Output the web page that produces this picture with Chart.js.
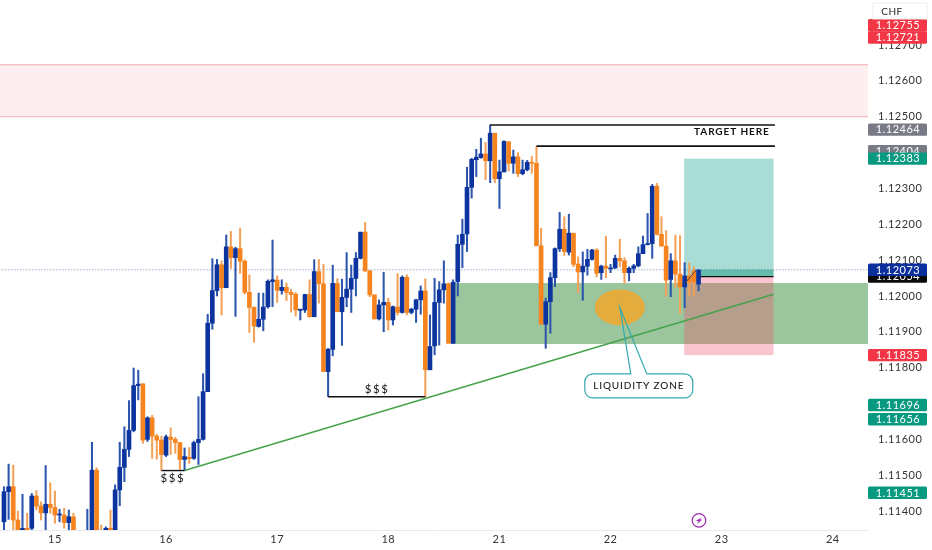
<!DOCTYPE html>
<html>
<head>
<meta charset="utf-8">
<title>CHF</title>
<script src="https://cdn.jsdelivr.net/npm/chart.js@4"></script>
<style>
  html, body { margin: 0; padding: 0; background: #fff; }
  canvas { display: block; }
</style>
</head>
<body>
<canvas id="chart" width="932" height="550"></canvas>
<script>
// hourly candles, x is the bar number
const opens = [
  1.11370,1.11454,1.11468,1.11375,1.11340,1.11352,1.11352,1.11442,1.11414,1.11395,
  1.11419,1.11410,1.11389,1.11389,1.11368,1.11384,1.11330,1.11300,1.11320,1.11335,
  1.11514,1.11335,1.11335,1.11352,1.11335,1.11459,1.11522,1.11572,1.11625,1.11750,
  1.11755,1.11600,1.11660,1.11609,1.11598,1.11556,1.11606,1.11600,1.11591,1.11544,
  1.11550,1.11547,1.11591,1.11600,1.11733,1.11924,1.12015,1.12087,1.12023,1.12137,
  1.12107,1.12132,1.12097,1.12010,1.11968,1.11915,1.11935,1.11970,1.12040,1.12044,
  1.12015,1.12024,1.12010,1.12005,1.11960,1.11961,1.12004,1.11942,1.12068,1.12034,
  1.11789,1.11851,1.12035,1.11956,1.11996,1.12019,1.12049,1.12105,1.12178,1.12070,
  1.12003,1.11936,1.11975,1.11982,1.11933,1.11969,1.11954,1.12052,1.11954,1.11963,
  1.11989,1.12014,1.11794,1.11861,1.11982,1.12017,1.12034,1.11868,1.12040,1.12144,
  1.12173,1.12303,1.12380,1.12386,1.12396,1.12377,1.12454,1.12327,1.12346,1.12430,
  1.12370,1.12388,1.12341,1.12352,1.12373,1.12370,1.12140,1.11921,1.11984,1.12051,
  1.12132,1.12186,1.12122,1.12175,1.12089,1.12067,1.12083,1.12102,1.12128,1.12065,
  1.12083,1.12076,1.12078,1.12105,1.12098,1.12065,1.12077,1.12084,1.12118,1.12143,
  1.12146,1.12306,1.12172,1.12139,1.12046,1.12098,1.12061,1.12025,1.12056,1.12069,1.12033
];
const highs = [
  1.11468,1.11531,1.11528,1.11400,1.11447,1.11394,1.11449,1.11457,1.11426,1.11527,
  1.11479,1.11456,1.11405,1.11408,1.11403,1.11394,1.11340,1.11335,1.11405,1.11592,
  1.11521,1.11361,1.11356,1.11403,1.11473,1.11592,1.11635,1.11708,1.11799,1.11793,
  1.11755,1.11663,1.11667,1.11614,1.11609,1.11612,1.11632,1.11606,1.11591,1.11576,
  1.11577,1.11595,1.11719,1.11783,1.11949,1.12104,1.12102,1.12098,1.12170,1.12180,
  1.12136,1.12189,1.12101,1.12059,1.11970,1.12008,1.12008,1.12045,1.12156,1.12056,
  1.12045,1.12036,1.12019,1.12009,1.11963,1.12005,1.12045,1.12101,1.12102,1.12088,
  1.11854,1.12086,1.12048,1.12047,1.12121,1.12086,1.12121,1.12178,1.12205,1.12071,
  1.12003,1.11989,1.12066,1.11994,1.11972,1.12062,1.12056,1.12059,1.11966,1.11991,
  1.12028,1.12048,1.11947,1.12049,1.12040,1.12098,1.12036,1.12045,1.12170,1.12214,
  1.12359,1.12384,1.12409,1.12440,1.12428,1.12477,1.12454,1.12379,1.12433,1.12431,
  1.12407,1.12400,1.12379,1.12378,1.12389,1.12417,1.12189,1.11994,1.12065,1.12134,
  1.12233,1.12221,1.12228,1.12175,1.12109,1.12123,1.12130,1.12130,1.12132,1.12086,
  1.12167,1.12088,1.12114,1.12158,1.12107,1.12081,1.12088,1.12137,1.12167,1.12230,
  1.12311,1.12314,1.12221,1.12182,1.12118,1.12170,1.12168,1.12093,1.12092,1.12081,1.12074
];
const lows = [
  1.11340,1.11377,1.11345,1.11330,1.11330,1.11335,1.11345,1.11403,1.11375,1.11345,
  1.11394,1.11366,1.11370,1.11352,1.11340,1.11330,1.11300,1.11290,1.11310,1.11320,
  1.11310,1.11310,1.11330,1.11330,1.11330,1.11415,1.11482,1.11552,1.11621,1.11710,
  1.11589,1.11594,1.11547,1.11545,1.11513,1.11552,1.11558,1.11561,1.11513,1.11513,
  1.11533,1.11544,1.11530,1.11598,1.11733,1.11907,1.12000,1.11947,1.12023,1.12077,
  1.11943,1.12063,1.12005,1.11898,1.11871,1.11913,1.11903,1.11966,1.11970,1.11982,
  1.12005,1.11987,1.11955,1.11944,1.11933,1.11954,1.11941,1.11942,1.11980,1.11789,
  1.11719,1.11833,1.11956,1.11862,1.11970,1.11954,1.12000,1.12103,1.12068,1.11998,
  1.11935,1.11933,1.11900,1.11905,1.11919,1.11947,1.11952,1.11947,1.11950,1.11926,
  1.11949,1.11719,1.11794,1.11836,1.11863,1.11980,1.11868,1.11868,1.12000,1.12079,
  1.12124,1.12273,1.12333,1.12384,1.12324,1.12316,1.12316,1.12244,1.12346,1.12349,
  1.12342,1.12333,1.12338,1.12349,1.12342,1.12140,1.11921,1.11854,1.11896,1.12026,
  1.12124,1.12113,1.12114,1.12082,1.12010,1.11988,1.12058,1.12100,1.12053,1.12046,
  1.12051,1.12065,1.12077,1.12081,1.12035,1.12042,1.12065,1.12081,1.12118,1.12142,
  1.12105,1.12170,1.12139,1.11999,1.11998,1.12025,1.11951,1.11967,1.11999,1.12002,1.12014
];
const closes = [
  1.11454,1.11468,1.11375,1.11340,1.11352,1.11342,1.11442,1.11414,1.11395,1.11419,
  1.11410,1.11389,1.11392,1.11368,1.11384,1.11340,1.11310,1.11320,1.11335,1.11514,
  1.11320,1.11320,1.11352,1.11335,1.11459,1.11522,1.11572,1.11625,1.11750,1.11754,
  1.11598,1.11660,1.11609,1.11598,1.11558,1.11607,1.11600,1.11591,1.11544,1.11552,
  1.11546,1.11591,1.11600,1.11733,1.11924,1.12015,1.12087,1.12023,1.12137,1.12107,
  1.12132,1.12097,1.12010,1.11968,1.11916,1.11935,1.11969,1.12041,1.12045,1.12016,
  1.12024,1.12010,1.12004,1.11961,1.11963,1.12004,1.11942,1.12068,1.12034,1.11789,
  1.11851,1.12035,1.11956,1.11996,1.12019,1.12049,1.12105,1.12178,1.12070,1.12003,
  1.11936,1.11975,1.11982,1.11933,1.11970,1.11954,1.12052,1.11954,1.11963,1.11989,
  1.12014,1.11794,1.11859,1.11982,1.12017,1.12034,1.11868,1.12038,1.12144,1.12172,
  1.12303,1.12381,1.12387,1.12396,1.12377,1.12454,1.12327,1.12346,1.12431,1.12370,
  1.12388,1.12341,1.12352,1.12373,1.12370,1.12140,1.11921,1.11984,1.12051,1.12132,
  1.12186,1.12124,1.12175,1.12088,1.12067,1.12083,1.12102,1.12128,1.12063,1.12083,
  1.12077,1.12078,1.12105,1.12098,1.12065,1.12077,1.12084,1.12118,1.12143,1.12146,
  1.12306,1.12172,1.12139,1.12044,1.12098,1.12061,1.12025,1.12056,1.12038,1.12038,1.12072
];

const dayTicks = [11, 35, 59, 83, 107, 131, 155, 179];
const dayLabels = ['15', '16', '17', '18', '21', '22', '23', '24'];
const priceTicks = [1.114, 1.115, 1.116, 1.117, 1.118, 1.119, 1.12, 1.121, 1.122, 1.123, 1.124, 1.125, 1.126, 1.127];

// tags on the price scale, later ones sit on top
const tagPrices = [1.12755, 1.12721, 1.12464, 1.12404, 1.12383, 1.12054, 1.12073, 1.11835, 1.11696, 1.11656, 1.11451];
const tagColors = ['#f23645', '#f23645', '#787b86', '#787b86', '#089981', '#0a0a0a', '#0c2f9e', '#f23645', '#089981', '#089981', '#089981'];

// drawings
const resistanceZone = [1.12500, 1.12645];
const demandZone = [1.11866, 1.12036];
const demandZoneStart = 96.5;
const longStartEnd = [146.9, 166.2];
const longPrices = [1.12383, 1.12054, 1.11835]; // target, entry, stop
const lastPrice = 1.12073;

const targetLineX = [105, 166.5];
const targetLineY = [1.12477, 1.12477];
const target2LineX = [115, 166.5];
const target2LineY = [1.12418, 1.12418];
const sss1LineX = [34, 39];
const sss1LineY = [1.11513, 1.11513];
const sss2LineX = [70, 91];
const sss2LineY = [1.11719, 1.11719];
const entryLineX = [150.4, 166.2];
const entryLineY = [1.12054, 1.12054];
const trendLineX = [39, 166.2];
const trendLineY = [1.11513, 1.12005];
const arrowLineX = [147, 149.5];
const arrowLineY = [1.12034, 1.12073];

const labelTexts = ['TARGET HERE', '$$$', '$$$'];
const labelX = [157.2, 36.5, 80.6];
const labelY = [1.12457, 1.11492, 1.11740];

const spotX = 133, spotY = 1.11968, spotRadX = 5.4, spotRadY = 0.0005;
const calloutX = 137.1, calloutY = 1.11749;
const boltX = 150.1, boltY = 1.11374;

const BLUE = '#0c349f', ORANGE = '#f5841f';
const barNums = opens.map((_, i) => i);

function segment(xs, ys, color, width, order, dash) {
  return {
    type: 'line',
    data: xs.map((x, i) => ({ x: x, y: ys[i] })),
    borderColor: color,
    borderWidth: width,
    borderDash: dash || [],
    pointRadius: 0,
    order: order
  };
}

const zonesPlugin = {
  id: 'zones',
  beforeDatasetsDraw(chart) {
    const { ctx, chartArea: a, scales: { x, y } } = chart;
    const yp = v => y.getPixelForValue(v);
    const xp = v => x.getPixelForValue(v);
    ctx.save();
    // pink band at the top
    ctx.fillStyle = '#fdeff0';
    ctx.fillRect(a.left, yp(resistanceZone[1]), a.width, yp(resistanceZone[0]) - yp(resistanceZone[1]));
    ctx.fillStyle = '#f6b9bd';
    ctx.fillRect(a.left, yp(resistanceZone[1]) - 0.6, a.width, 1.2);
    ctx.fillRect(a.left, yp(resistanceZone[0]) - 0.6, a.width, 1.2);
    // green zone
    ctx.fillStyle = 'rgba(56,142,60,.5)';
    ctx.fillRect(xp(demandZoneStart), yp(demandZone[1]), a.right - xp(demandZoneStart), yp(demandZone[0]) - yp(demandZone[1]));
    // long position box
    const l = xp(longStartEnd[0]), w = xp(longStartEnd[1]) - l;
    ctx.fillStyle = '#a8dcd4';
    ctx.fillRect(l, yp(longPrices[0]), w, yp(longPrices[1]) - yp(longPrices[0]));
    ctx.fillStyle = 'rgba(237,79,106,.33)';
    ctx.fillRect(l, yp(longPrices[1]), w, yp(longPrices[2]) - yp(longPrices[1]));
    ctx.fillStyle = 'rgba(0,140,110,.4)';
    ctx.fillRect(xp(entryLineX[0]), yp(lastPrice), xp(longStartEnd[1]) - xp(entryLineX[0]), yp(longPrices[1]) - yp(lastPrice));
    ctx.restore();
  }
};

const drawingsPlugin = {
  id: 'drawings',
  afterDatasetsDraw(chart) {
    const { ctx, scales: { x, y } } = chart;
    const xp = v => x.getPixelForValue(v);
    const yp = v => y.getPixelForValue(v);
    ctx.save();

    // orange spot
    ctx.fillStyle = '#e4ac3c';
    ctx.beginPath();
    ctx.ellipse(xp(spotX), yp(spotY), xp(spotX + spotRadX) - xp(spotX), yp(spotY - spotRadY) - yp(spotY), 0, 0, Math.PI * 2);
    ctx.fill();

    // callout box with its tail to the spot
    const cx = xp(calloutX), cy = yp(calloutY), hw = 54, hh = 12, r = 8;
    ctx.fillStyle = '#fff';
    ctx.beginPath();
    ctx.roundRect(cx - hw, cy - hh, hw * 2, hh * 2, r);
    ctx.fill();
    ctx.strokeStyle = '#35a9ad';
    ctx.lineWidth = 1.2;
    ctx.beginPath();
    ctx.moveTo(cx - 8, cy - hh);
    ctx.lineTo(xp(spotX), yp(spotY));
    ctx.lineTo(cx + 8, cy - hh);
    ctx.arcTo(cx + hw, cy - hh, cx + hw, cy + hh, r);
    ctx.arcTo(cx + hw, cy + hh, cx - hw, cy + hh, r);
    ctx.arcTo(cx - hw, cy + hh, cx - hw, cy - hh, r);
    ctx.arcTo(cx - hw, cy - hh, cx - 8, cy - hh, r);
    ctx.closePath();
    ctx.stroke();

    ctx.textAlign = 'center';
    ctx.textBaseline = 'middle';
    ctx.fillStyle = '#222';
    ctx.font = '500 10px Lato';
    ctx.letterSpacing = '0.9px';
    ctx.fillText('LIQUIDITY ZONE', cx, cy);

    ctx.fillStyle = '#111';
    labelTexts.forEach((t, i) => {
      ctx.font = t === '$$$' ? '11.5px Lato' : '700 10px Lato';
      ctx.letterSpacing = t === '$$$' ? '1.6px' : '0.9px';
      ctx.fillText(t, xp(labelX[i]), yp(labelY[i]));
    });
    ctx.restore();
  }
};

const tagsPlugin = {
  id: 'tags',
  beforeDraw(chart) {
    chart.ctx.letterSpacing = '0.5px';
  },
  afterDraw(chart) {
    const { ctx, chartArea: a, scales: { x, y } } = chart;
    ctx.save();
    ctx.textAlign = 'center';
    ctx.textBaseline = 'middle';
    ctx.font = '11px Lato';
    ctx.letterSpacing = '0.5px';
    tagPrices.forEach((p, i) => {
      const py = y.getPixelForValue(p);
      ctx.fillStyle = tagColors[i];
      ctx.beginPath();
      ctx.roundRect(a.right, py - 6.2, 59, 12.4, 1.5);
      ctx.fill();
      ctx.fillStyle = '#fff';
      ctx.fillText(p.toFixed(5), a.right + 30, py + 0.3);
    });

    // currency box
    ctx.fillStyle = '#fff';
    ctx.strokeStyle = '#eeeeef';
    ctx.lineWidth = 1;
    ctx.fillRect(873, 3, 54, 16);
    ctx.strokeRect(873, 3, 54, 16);
    ctx.fillStyle = '#222';
    ctx.font = '10px Lato';
    ctx.fillText('CHF', 892, 12);

    // lightning mark
    const bx = x.getPixelForValue(boltX), by = y.getPixelForValue(boltY);
    ctx.strokeStyle = '#9c27b0';
    ctx.lineWidth = 1.2;
    ctx.fillStyle = '#fff';
    ctx.beginPath();
    ctx.arc(bx, by, 6.8, 0, Math.PI * 2);
    ctx.fill();
    ctx.stroke();
    ctx.fillStyle = '#9c27b0';
    ctx.beginPath();
    ctx.moveTo(bx + 3, by - 3.5);
    ctx.lineTo(bx - 3.2, by + 0.6);
    ctx.lineTo(bx - 0.4, by + 0.6);
    ctx.lineTo(bx - 2.4, by + 3.8);
    ctx.lineTo(bx + 3.4, by - 0.8);
    ctx.lineTo(bx + 0.6, by - 0.8);
    ctx.closePath();
    ctx.fill();
    ctx.restore();
  }
};

new Chart(document.getElementById('chart'), {
  data: {
    datasets: [
      // wicks and bodies are two layers of floating bars
      {
        type: 'bar',
        data: barNums.map(i => ({ x: i, y: [lows[i], highs[i]] })),
        backgroundColor: barNums.map(i => closes[i] >= opens[i] ? '#2c56ad' : '#f4a158'),
        barThickness: 1.4,
        grouped: false,
        order: 3
      },
      {
        type: 'bar',
        data: barNums.map(i => ({ x: i, y: [opens[i], closes[i]] })),
        backgroundColor: barNums.map(i => closes[i] >= opens[i] ? BLUE : ORANGE),
        barThickness: 4,
        grouped: false,
        order: 2
      },
      segment([-1, 187], [lastPrice, lastPrice], 'rgba(60,85,150,.75)', 1, 4, [1, 2]),
      segment(trendLineX, trendLineY, '#47a24b', 1.5, 1),
      segment(targetLineX, targetLineY, '#111', 1.6, 1),
      segment(target2LineX, target2LineY, '#111', 1.6, 1),
      segment(sss1LineX, sss1LineY, '#111', 1.4, 1),
      segment(sss2LineX, sss2LineY, '#111', 1.6, 1),
      segment(entryLineX, entryLineY, '#111', 1.2, 1),
      segment(arrowLineX, arrowLineY, '#444', 1, 1)
    ]
  },
  options: {
    responsive: false,
    animation: false,
    layout: { padding: 0 },
    plugins: { legend: { display: false }, tooltip: { enabled: false } },
    scales: {
      x: {
        type: 'linear',
        offset: false,
        min: -0.86,
        max: 186.6,
        grid: { display: false, drawTicks: false, offset: false },
        border: { display: true, color: '#e9e9ee' },
        afterBuildTicks(s) { s.ticks = dayTicks.map(v => ({ value: v })); },
        afterFit(s) { s.height = 20; s.paddingLeft = 0; s.paddingRight = 0; },
        ticks: {
          autoSkip: false,
          maxRotation: 0,
          padding: 3,
          color: '#333',
          font: { family: 'Lato', size: 11 },
          callback: v => dayLabels[dayTicks.indexOf(v)]
        }
      },
      y: {
        type: 'linear',
        position: 'right',
        min: 1.113472,
        max: 1.128255,
        grid: { display: false, drawTicks: false },
        border: { display: false },
        afterBuildTicks(s) { s.ticks = priceTicks.map(v => ({ value: v })); },
        afterFit(s) { s.width = 64; s.paddingTop = 0; s.paddingBottom = 0; },
        ticks: {
          padding: 10,
          color: '#333',
          font: { family: 'Lato', size: 11 },
          callback: v => v.toFixed(5)
        }
      }
    }
  },
  plugins: [zonesPlugin, drawingsPlugin, tagsPlugin]
});
</script>
</body>
</html>
